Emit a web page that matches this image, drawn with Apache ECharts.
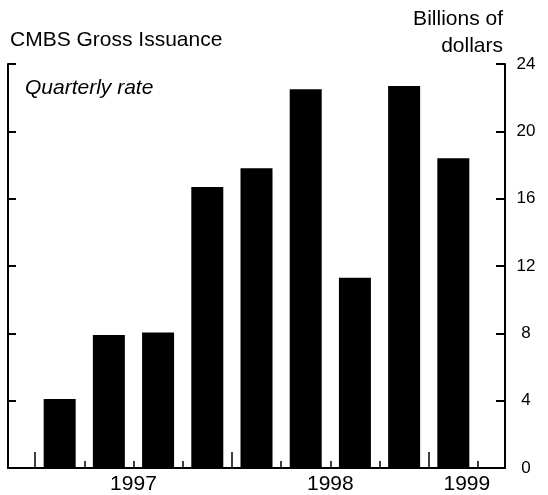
<!DOCTYPE html>
<html>
<head>
<meta charset="utf-8">
<script src="https://cdn.jsdelivr.net/npm/echarts@6/dist/echarts.min.js"></script>
<style>
  html, body { margin: 0; padding: 0; background: #fff; }
  #chart { width: 548px; height: 495px; }
</style>
</head>
<body>
<div id="chart"></div>
<script>
// ---- data ----
const quarters = ['1997Q1','1997Q2','1997Q3','1997Q4','1998Q1','1998Q2','1998Q3','1998Q4','1999Q1'];
const issuance = [4.1, 7.9, 8.05, 16.7, 17.8, 22.5, 11.3, 22.7, 18.4];   // billions of dollars, quarterly rate
const years = ['1997', '1998', '1999'];
const yTicks = [0, 4, 8, 12, 16, 20, 24];

// ---- layout / style ----
const FONT = 'Liberation Sans, Arial, Helvetica, sans-serif';
const X_MIN = -1.05, X_MAX = 9.05;

const barData = quarters.map((q, i) => [i, issuance[i]]);
const quarterBounds = quarters.map((q, i) => i - 0.5).concat([quarters.length - 0.5]);
// year spans derived from quarter names
const yearInfo = years.map(y => {
  const idx = quarters.map((q, i) => q.startsWith(y) ? i : -1).filter(i => i >= 0);
  const start = idx[0] - 0.5;
  const end = Math.min(idx[0] + 3.5, X_MAX);
  return { label: y, start: start, center: (start + end) / 2 };
});
const yearBounds = yearInfo.map(d => d.start);
const yearCenters = yearInfo.map(d => d.center);

const chart = echarts.init(document.getElementById('chart'), null, { renderer: 'canvas' });
const axisLine = { show: true, onZero: false, lineStyle: { color: '#000', width: 2 } };

chart.setOption({
  animation: false,
  backgroundColor: '#fff',
  grid: { left: 8, right: 43, top: 64, bottom: 23, containLabel: false },
  xAxis: [
    {
      type: 'value', min: X_MIN, max: X_MAX, position: 'bottom',
      axisLine: axisLine,
      splitLine: { show: false },
      axisTick: { show: true, inside: true, length: 7, customValues: quarterBounds, lineStyle: { color: '#000', width: 1.5 } },
      axisLabel: {
        show: true, customValues: yearCenters, margin: 6,
        color: '#000', fontSize: 21, fontFamily: FONT,
        formatter: v => { const d = yearInfo.find(e => Math.abs(e.center - v) < 1e-6); return d ? d.label : ''; }
      }
    },
    {
      type: 'value', min: X_MIN, max: X_MAX, position: 'bottom',
      axisLine: { show: false, onZero: false },
      splitLine: { show: false },
      axisTick: { show: true, inside: true, length: 16, customValues: yearBounds, lineStyle: { color: '#000', width: 1.5 } },
      axisLabel: { show: false }
    }
  ],
  yAxis: [
    {
      type: 'value', min: 0, max: 24, interval: 4, position: 'left',
      axisLine: axisLine,
      splitLine: { show: false },
      axisTick: { show: true, inside: true, length: 8, lineStyle: { color: '#000', width: 2 } },
      axisLabel: { show: false }
    },
    {
      type: 'value', min: 0, max: 24, interval: 4, position: 'right',
      axisLine: axisLine,
      splitLine: { show: false },
      axisTick: { show: true, inside: true, length: 9, lineStyle: { color: '#000', width: 2 } },
      axisLabel: {
        show: true, margin: 21, align: 'center', color: '#000', fontSize: 17, fontFamily: FONT,
        formatter: v => yTicks.includes(v) ? String(v) : ''
      }
    }
  ],
  series: [{
    type: 'bar',
    xAxisIndex: 0, yAxisIndex: 0,
    data: barData,
    barWidth: 32,
    itemStyle: { color: '#000' }
  }],
  graphic: [
    { type: 'text', left: 10, top: 30, style: { text: 'CMBS Gross Issuance', font: '21px ' + FONT, fill: '#000' } },
    { type: 'text', left: 25, top: 78, style: { text: 'Quarterly rate', font: 'italic 21px ' + FONT, fill: '#000' } },
    { type: 'text', right: 45, top: 9, style: { text: 'Billions of', font: '21px ' + FONT, fill: '#000', align: 'right' } },
    { type: 'text', right: 45, top: 36, style: { text: 'dollars', font: '21px ' + FONT, fill: '#000', align: 'right' } }
  ]
});
</script>
</body>
</html>
